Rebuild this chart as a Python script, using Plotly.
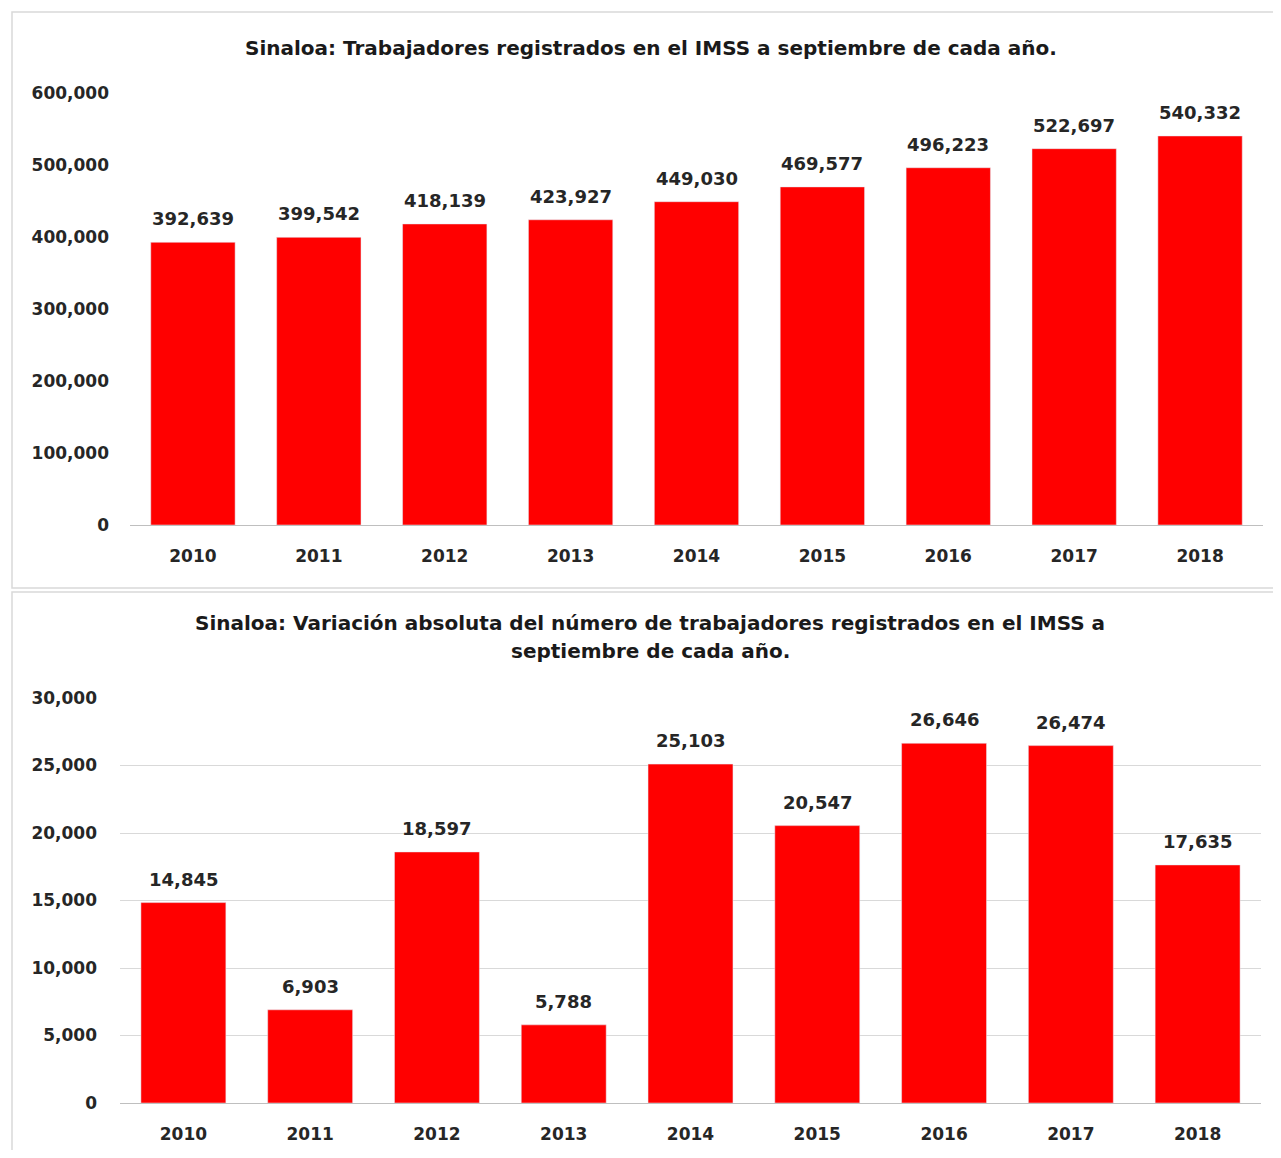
import plotly.graph_objects as go

years = ["2010", "2011", "2012", "2013", "2014", "2015", "2016", "2017", "2018"]
trabajadores = [392639, 399542, 418139, 423927, 449030, 469577, 496223, 522697, 540332]
variacion = [14845, 6903, 18597, 5788, 25103, 20547, 26646, 26474, 17635]

title_top = "Sinaloa: Trabajadores registrados en el IMSS a septiembre de cada año."
title_bottom_1 = "Sinaloa: Variación absoluta del número de trabajadores registrados en el IMSS a"
title_bottom_2 = "septiembre de cada año."

# page has an 8px body margin; the figure is sized to fit the window
OFF = 8
W, H = 1281 - 2 * OFF, 1158 - 2 * OFF


def px(x):
    return (x - OFF) / W


def py(y):
    return 1 - (y - OFF) / H


RED = "#ff0000"
TXT = "#262626"
TICKFONT = dict(family="DejaVu Sans", size=17, color=TXT, weight="bold")
LABELFONT = dict(family="DejaVu Sans", size=18, color=TXT, weight="bold")
TITLEFONT = dict(family="DejaVu Sans", size=20, color="#1a1a1a", weight="bold")

fig = go.Figure()
fig.add_trace(go.Bar(x=years, y=trabajadores, marker_color=RED, xaxis="x", yaxis="y",
                     hoverinfo="x+y", showlegend=False))
fig.add_trace(go.Bar(x=years, y=variacion, marker_color=RED, xaxis="x2", yaxis="y2",
                     hoverinfo="x+y", showlegend=False))

annotations = []
for i, yv in enumerate(trabajadores):
    annotations.append(dict(x=i, y=yv, xref="x", yref="y", text=f"{yv:,}",
                            showarrow=False, yanchor="bottom", yshift=11, font=LABELFONT))
for i, yv in enumerate(variacion):
    annotations.append(dict(x=i, y=yv, xref="x2", yref="y2", text=f"{yv:,}",
                            showarrow=False, yanchor="bottom", yshift=11, font=LABELFONT))

annotations.append(dict(x=px(651), y=py(48), xref="paper", yref="paper", text=title_top,
                        showarrow=False, xanchor="center", yanchor="middle", font=TITLEFONT))
annotations.append(dict(x=px(650), y=py(623), xref="paper", yref="paper", text=title_bottom_1,
                        showarrow=False, xanchor="center", yanchor="middle", font=TITLEFONT))
annotations.append(dict(x=px(650), y=py(651), xref="paper", yref="paper", text=title_bottom_2,
                        showarrow=False, xanchor="center", yanchor="middle", font=TITLEFONT))

shapes = [
    dict(type="rect", xref="paper", yref="paper", x0=px(12), x1=1.02, y0=py(588), y1=py(12),
         line=dict(color="#d9d9d9", width=1.5), fillcolor="rgba(0,0,0,0)", layer="below"),
    dict(type="rect", xref="paper", yref="paper", x0=px(12), x1=px(1276), y0=-0.02, y1=py(592),
         line=dict(color="#d9d9d9", width=1.5), fillcolor="rgba(0,0,0,0)", layer="below"),
]

fig.update_layout(
    width=W, height=H,
    margin=dict(l=0, r=0, t=0, b=0, autoexpand=False),
    paper_bgcolor="white", plot_bgcolor="white",
    bargap=0.33,
    annotations=annotations,
    shapes=shapes,
    xaxis=dict(type="category", domain=[px(130), px(1263)], anchor="y", tickfont=TICKFONT, showgrid=False,
               showline=True, linecolor="#bfbfbf", linewidth=1, ticks="", ticklabelstandoff=16,
               automargin=False),
    yaxis=dict(domain=[py(525), py(93)], anchor="x", range=[0, 600000], dtick=100000,
               tickformat=",d", tickfont=TICKFONT, showgrid=False, zeroline=False,
               ticks="", ticklabelstandoff=20, automargin=False),
    xaxis2=dict(type="category", domain=[px(120), px(1261)], anchor="y2", tickfont=TICKFONT, showgrid=False,
                showline=True, linecolor="#bfbfbf", linewidth=1, ticks="", ticklabelstandoff=16,
                automargin=False),
    yaxis2=dict(domain=[py(1103), py(698)], anchor="x2", range=[0, 30000], dtick=5000,
                tickformat=",d", tickfont=TICKFONT, showgrid=True, gridcolor="#d9d9d9", gridwidth=1,
                zeroline=False, ticks="", ticklabelstandoff=22, automargin=False),
)

fig.write_html("out.html")
